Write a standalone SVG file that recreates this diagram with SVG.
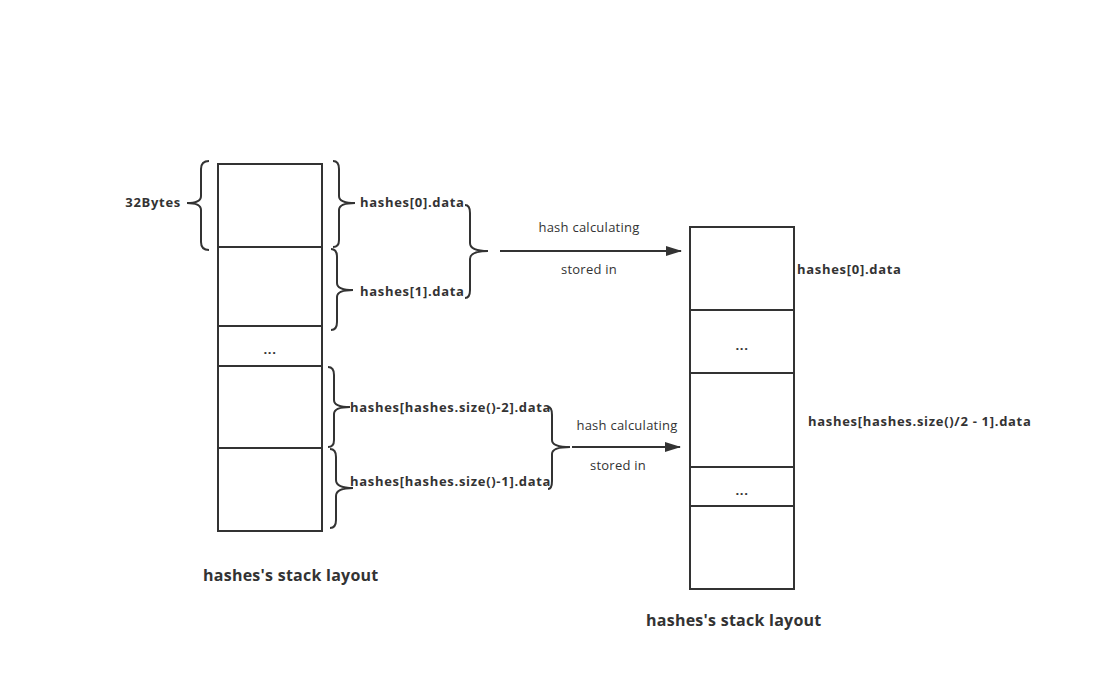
<svg xmlns="http://www.w3.org/2000/svg" width="1099" height="696" viewBox="0 0 1099 696">
<defs>
<style>
.box{fill:#fff;stroke:#333;stroke-width:2}
.ln{fill:none;stroke:#333;stroke-width:2}
.br{fill:none;stroke:#333;stroke-width:2}
.b{font-family:"Open Sans","Noto Sans",sans-serif;font-weight:bold;font-size:13px;fill:#333;letter-spacing:0.7px}
.n{font-family:"Open Sans","Noto Sans",sans-serif;font-size:13px;fill:#333;letter-spacing:0.25px}
.t{font-family:"Open Sans","Noto Sans",sans-serif;font-weight:bold;font-size:16px;fill:#333;letter-spacing:0.25px}
</style>
<marker id="ah" markerWidth="16" markerHeight="10" refX="15" refY="5" orient="auto" markerUnits="userSpaceOnUse">
<path d="M0,0 L16,5 L0,10 Z" fill="#333"/>
</marker>
</defs>
<rect width="1099" height="696" fill="#fff"/>

<g id="left-stack">
<rect class="box" x="218" y="164" width="104" height="367"/>
<line class="ln" x1="218" y1="247" x2="322" y2="247"/>
<line class="ln" x1="218" y1="326" x2="322" y2="326"/>
<line class="ln" x1="218" y1="366" x2="322" y2="366"/>
<line class="ln" x1="218" y1="448" x2="322" y2="448"/>
<text class="b" x="270" y="354" text-anchor="middle">...</text>
</g>

<g id="right-stack">
<rect class="box" x="690" y="227" width="104" height="362"/>
<line class="ln" x1="690" y1="310" x2="794" y2="310"/>
<line class="ln" x1="690" y1="373" x2="794" y2="373"/>
<line class="ln" x1="690" y1="467" x2="794" y2="467"/>
<line class="ln" x1="690" y1="506" x2="794" y2="506"/>
<text class="b" x="742" y="350" text-anchor="middle">...</text>
<text class="b" x="742" y="495" text-anchor="middle">...</text>
</g>

<g id="brace-32bytes">
<path class="br" d="M209,161 Q201,161 201,169 L201,196 Q201,203 187,203 Q201,203 201,210 L201,242 Q201,250 209,250"/>
<text class="b" x="181" y="207" text-anchor="end">32Bytes</text>
</g>

<g id="brace-h0">
<path class="br" d="M333,161 Q339,161 339,169 L339,196 Q339,203 355,203 Q339,203 339,210 L339,240 Q339,247 333,247"/>
<text class="b" x="360" y="207">hashes[0].data</text>
</g>

<g id="brace-h1">
<path class="br" d="M331,249 Q337,249 337,257 L337,283 Q337,290 353,290 Q337,290 337,297 L337,322 Q337,330 331,330"/>
<text class="b" x="360" y="296">hashes[1].data</text>
</g>

<g id="brace-pair1">
<path class="br" d="M465,205 Q470,205 470,213 L470,243 Q470,251 488,251 Q470,251 470,259 L470,290 Q470,298 465,298"/>
</g>

<g id="brace-hn2">
<path class="br" d="M328,367 Q334,367 334,375 L334,400 Q334,407 350,407 Q334,407 334,414 L334,440 Q334,447 328,447"/>
<text class="b" x="350" y="412">hashes[hashes.size()-2].data</text>
</g>

<g id="brace-hn1">
<path class="br" d="M330,449 Q336,449 336,457 L336,480 Q336,488 353,488 Q336,488 336,496 L336,520 Q336,528 330,528"/>
<text class="b" x="350" y="486">hashes[hashes.size()-1].data</text>
</g>

<g id="brace-pair2">
<path class="br" d="M548,407 Q552,407 552,415 L552,440 Q552,447 570,447 Q552,447 552,454 L552,481 Q552,489 548,489"/>
</g>

<g id="connectors">
<line class="ln" x1="500" y1="251" x2="681" y2="251" marker-end="url(#ah)"/>
<line class="ln" x1="572" y1="447" x2="680" y2="447" marker-end="url(#ah)"/>
</g>

<g id="labels">
<text class="n" x="589" y="232" text-anchor="middle">hash calculating</text>
<text class="n" x="589" y="274" text-anchor="middle">stored in</text>
<text class="n" x="627" y="430" text-anchor="middle">hash calculating</text>
<text class="n" x="618" y="470" text-anchor="middle">stored in</text>
<text class="b" x="797" y="274">hashes[0].data</text>
<text class="b" x="808" y="426">hashes[hashes.size()/2 - 1].data</text>
<text class="t" x="203" y="581">hashes's stack layout</text>
<text class="t" x="646" y="626">hashes's stack layout</text>
</g>
</svg>
